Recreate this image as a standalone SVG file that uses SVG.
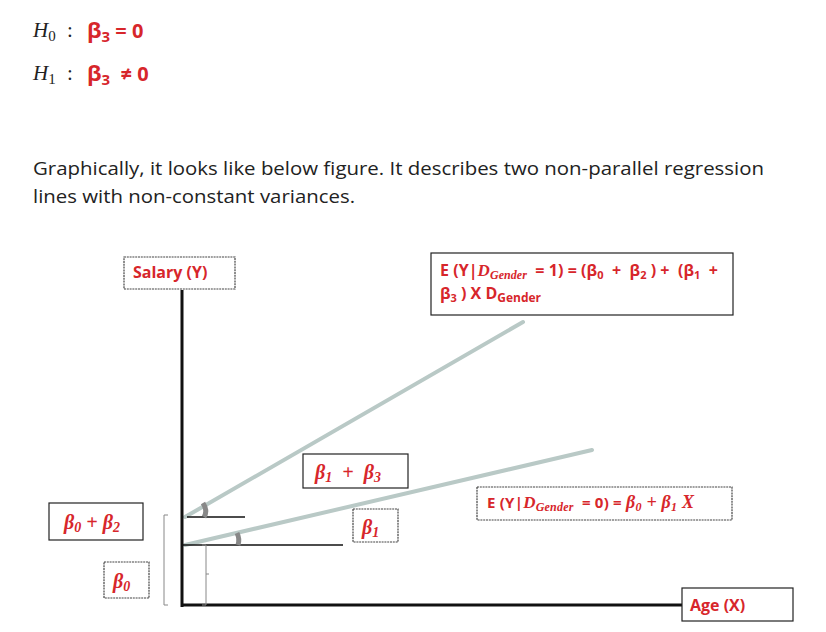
<svg xmlns="http://www.w3.org/2000/svg" width="826" height="632" viewBox="0 0 826 632">
<style>
.box{fill:#fff;stroke:#222;stroke-width:1.2}
.dbox{fill:#fff;stroke:#444;stroke-width:1.2;stroke-dasharray:2 0.8}
.red{fill:#d7262b;font-family:"Open Sans","Liberation Sans",sans-serif;font-weight:bold}
.gk{fill:#d7262b;font-family:"Liberation Serif","DejaVu Serif",serif;font-weight:bold;font-style:italic}
.hy{fill:#222;font-family:"Liberation Serif","DejaVu Serif",serif;font-style:italic;font-size:21px}
.body{fill:#222;font-family:"Open Sans","Liberation Sans",sans-serif;font-size:18px}
.reg{stroke:#b9c9c6;stroke-width:4;stroke-linecap:round}
.axis{stroke:#111;stroke-width:3}
.thin{stroke:#111;stroke-width:1.5}
.br{fill:none;stroke:#888;stroke-width:1}
</style>
<g id="hypotheses">
<text class="hy" x="33" y="37">H<tspan font-size="15" dy="4" font-style="normal">0</tspan></text>
<text x="67" y="37" font-family="Liberation Serif,serif" font-size="21" fill="#222">:</text>
<text class="red" x="87" y="38" font-size="22" font-family="Liberation Sans,sans-serif">β<tspan font-size="15" dy="4">3</tspan><tspan dy="-4" font-size="20">&#160;= 0</tspan></text>
<text class="hy" x="33" y="80">H<tspan font-size="15" dy="4" font-style="normal">1</tspan></text>
<text x="67" y="80" font-family="Liberation Serif,serif" font-size="21" fill="#222">:</text>
<text class="red" x="87" y="81" font-size="22" font-family="Liberation Sans,sans-serif">β<tspan font-size="15" dy="4">3</tspan><tspan dy="-4" font-size="20">&#160;&#160;≠ 0</tspan></text>
</g>
<g id="paragraph">
<text class="body" x="33" y="175" textLength="731" lengthAdjust="spacingAndGlyphs">Graphically, it looks like below figure. It describes two non-parallel regression</text>
<text class="body" x="33" y="203" textLength="322" lengthAdjust="spacingAndGlyphs">lines with non-constant variances.</text>
</g>
<g id="connectors">
<line class="reg" x1="185" y1="517" x2="523" y2="322"/>
<line class="reg" x1="185" y1="545" x2="592" y2="450"/>
<line class="thin" x1="187" y1="517" x2="245" y2="517"/>
<line class="thin" x1="183" y1="545" x2="343" y2="545"/>
<path d="M203 503 q5 8 1 14" stroke="#888" stroke-width="5" fill="none"/>
<path d="M237 533 q3 6 1 12" stroke="#888" stroke-width="5" fill="none"/>
<line class="axis" x1="182" y1="290" x2="182" y2="607"/>
<line class="axis" x1="181" y1="605" x2="683" y2="605"/>
<path class="br" d="M168 515 h-4 v90 h4"/>
<path class="br" d="M202 545 h4 v60 h-4 M206 574 h3"/>
</g>
<g id="salary">
<rect class="dbox" x="124" y="257" width="111" height="32"/>
<text class="red" x="133" y="278" font-size="16">Salary (Y)</text>
</g>
<g id="eq1">
<rect class="box" x="431" y="253" width="302" height="62"/>
<text class="red" x="440" y="276" font-size="16" textLength="278" lengthAdjust="spacing">E (Y|<tspan class="gk" font-size="17">D</tspan><tspan class="gk" font-size="12" dy="3">Gender</tspan><tspan dy="-3">&#160;&#160;= 1) = (β</tspan><tspan font-size="11" dy="3">0</tspan><tspan dy="-3">&#160;&#160;+&#160;&#160;β</tspan><tspan font-size="11" dy="3">2</tspan><tspan dy="-3">&#160;) +&#160;&#160;(β</tspan><tspan font-size="11" dy="3">1</tspan><tspan dy="-3">&#160;&#160;+</tspan></text>
<text class="red" x="440" y="299" font-size="16">β<tspan font-size="11" dy="3">3</tspan><tspan dy="-3">&#160;) X D</tspan><tspan font-size="12" dy="3">Gender</tspan></text>
</g>
<g id="b1b3">
<rect class="box" x="303" y="454" width="105" height="34"/>
<text class="gk" x="315" y="479" font-size="20">β<tspan font-size="14" dy="3">1</tspan><tspan dy="-3">&#160;&#160;+&#160;&#160;β</tspan><tspan font-size="14" dy="3">3</tspan></text>
</g>
<g id="b1">
<rect class="dbox" x="353" y="509" width="45" height="33"/>
<text class="gk" x="362" y="534" font-size="20">β<tspan font-size="14" dy="3">1</tspan></text>
</g>
<g id="eq0">
<rect class="dbox" x="477" y="487" width="255" height="33"/>
<text class="red" x="487" y="508" font-size="15" textLength="207" lengthAdjust="spacing">E (Y|<tspan class="gk" font-size="17">D</tspan><tspan class="gk" font-size="12" dy="3">Gender</tspan><tspan dy="-3">&#160;&#160;= 0) = </tspan><tspan class="gk" font-size="18">β</tspan><tspan class="gk" font-size="12" dy="3">0</tspan><tspan class="gk" dy="-3" font-size="18">&#160;+ β</tspan><tspan class="gk" font-size="12" dy="3">1</tspan><tspan class="gk" dy="-3" font-size="18">&#160;X</tspan></text>
</g>
<g id="b0b2">
<rect class="box" x="49" y="503" width="94" height="37"/>
<text class="gk" x="64" y="529" font-size="20">β<tspan font-size="14" dy="3">0</tspan><tspan dy="-3">&#160;+ β</tspan><tspan font-size="14" dy="3">2</tspan></text>
</g>
<g id="b0">
<rect class="dbox" x="104" y="562" width="45" height="36"/>
<text class="gk" x="113" y="588" font-size="20">β<tspan font-size="14" dy="3">0</tspan></text>
</g>
<g id="age">
<rect class="box" x="682" y="588" width="111" height="33"/>
<text class="red" x="690" y="611" font-size="16">Age (X)</text>
</g>
</svg>
